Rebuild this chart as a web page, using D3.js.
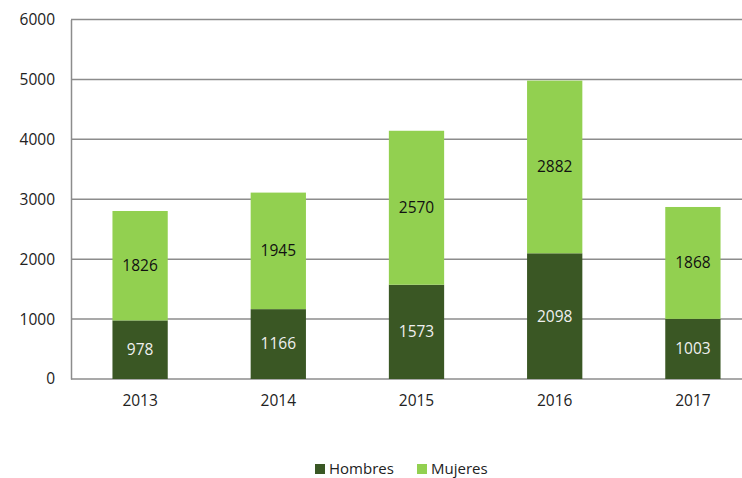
<!DOCTYPE html>
<html>
<head>
<meta charset="utf-8">
<script src="https://cdn.jsdelivr.net/npm/d3@7"></script>
<style>
  body { margin: 0; background: #fff; }
  text { font-family: "Open Sans", sans-serif; }
</style>
</head>
<body>
<div id="chart"></div>
<script>
var years = ["2013", "2014", "2015", "2016", "2017"];
var hombres = [978, 1166, 1573, 2098, 1003];
var mujeres = [1826, 1945, 2570, 2882, 1868];
var yTicks = [0, 1000, 2000, 3000, 4000, 5000, 6000];
var seriesNames = ["Hombres", "Mujeres"];

var W = 742, H = 478;
var colors = {Hombres: "#3a5724", Mujeres: "#92d050"};

var svg = d3.select("#chart").append("svg")
  .attr("width", W).attr("height", H);

var x = d3.scaleBand()
  .domain(years)
  .range([71, 762])
  .paddingInner(0.6)
  .paddingOuter(0.3);

var y = d3.scaleLinear()
  .domain([0, 6000])
  .range([379, 19.5]);

// gridlines
svg.append("g")
  .selectAll("line")
  .data(yTicks)
  .enter().append("line")
    .attr("x1", 71).attr("x2", W)
    .attr("y1", d => y(d)).attr("y2", d => y(d))
    .attr("stroke", "#8c8c8c")
    .attr("stroke-width", 1.5);

// y axis
var yAxis = svg.append("g")
  .attr("transform", "translate(71,0)")
  .call(d3.axisLeft(y).tickValues(yTicks).tickSize(0).tickPadding(16).tickFormat(d3.format("d")));
yAxis.select(".domain").attr("stroke", "#8c8c8c").attr("stroke-width", 1.5);
yAxis.selectAll("text").attr("font-size", 15.5).attr("fill", "#222").style("font-family", "'Open Sans', sans-serif");

// x axis
var xAxis = svg.append("g")
  .attr("transform", "translate(0,379)")
  .call(d3.axisBottom(x).tickSize(0).tickPadding(16));
xAxis.select(".domain").remove();
xAxis.selectAll("text").attr("font-size", 15.5).attr("fill", "#222").style("font-family", "'Open Sans', sans-serif");

var data = years.map((yr, i) => ({year: yr, Hombres: hombres[i], Mujeres: mujeres[i]}));
var stacked = d3.stack().keys(seriesNames)(data);

var layers = svg.append("g").selectAll("g")
  .data(stacked)
  .enter().append("g")
    .attr("fill", d => colors[d.key]);

layers.selectAll("rect")
  .data(d => d)
  .enter().append("rect")
    .attr("x", d => x(d.data.year))
    .attr("y", d => y(d[1]))
    .attr("width", x.bandwidth())
    .attr("height", d => y(d[0]) - y(d[1]));

// value labels
stacked.forEach(function(layer) {
  svg.append("g").selectAll("text")
    .data(layer)
    .enter().append("text")
      .attr("x", d => x(d.data.year) + x.bandwidth() / 2)
      .attr("y", d => (y(d[0]) + y(d[1])) / 2)
      .attr("dy", "0.35em")
      .attr("text-anchor", "middle")
      .attr("font-size", 15.5)
      .attr("fill", layer.key == "Hombres" ? "#f0f0f0" : "#111")
      .text(d => d[1] - d[0]);
});

// legend
var legendX = [315, 417];
var legend = svg.append("g").selectAll("g")
  .data(seriesNames)
  .enter().append("g")
    .attr("transform", (d, i) => "translate(" + legendX[i] + ",462)");
legend.append("rect")
  .attr("y", 2)
  .attr("width", 10).attr("height", 10)
  .attr("fill", d => colors[d]);
legend.append("text")
  .attr("x", 14).attr("y", 7).attr("dy", "0.35em")
  .attr("font-size", 15)
  .attr("fill", "#222")
  .text(d => d);
</script>
</body>
</html>
